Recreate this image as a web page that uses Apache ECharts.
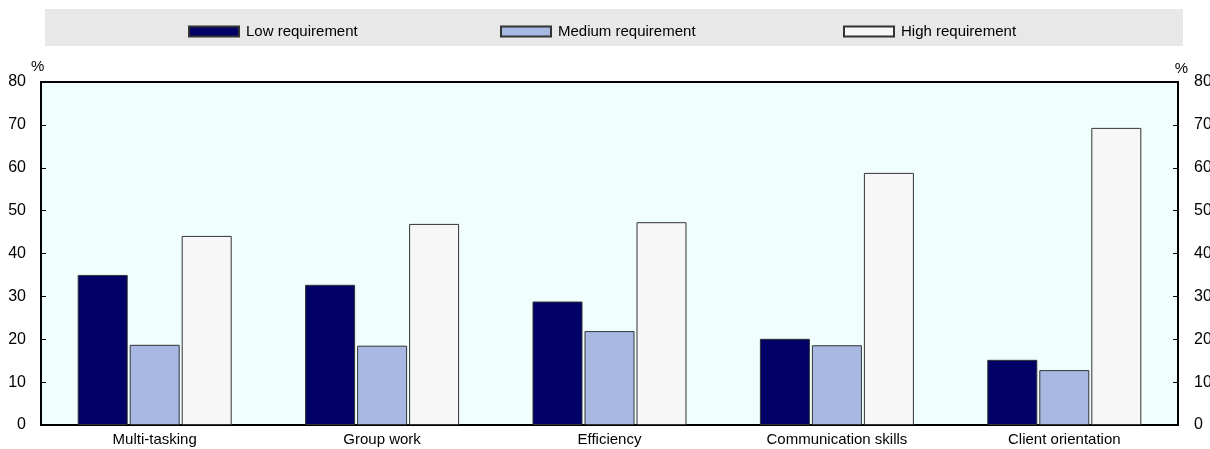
<!DOCTYPE html>
<html><head><meta charset="utf-8">
<script src="https://cdn.jsdelivr.net/npm/echarts@6/dist/echarts.min.js"></script>
<style>html,body{margin:0;padding:0;background:#fff}#c{width:1210px;height:449px}</style>
</head><body><div id="c"></div>
<script>
const categories = ['Multi-tasking', 'Group work', 'Efficiency', 'Communication skills', 'Client orientation'];
const lowReq = [35.0, 32.7, 28.8, 20.1, 15.2];
const mediumReq = [18.7, 18.5, 21.9, 18.6, 12.8];
const highReq = [44.1, 46.9, 47.3, 58.8, 69.3];
const yTicks = [0, 10, 20, 30, 40, 50, 60, 70, 80];
const seriesNames = ['Low requirement', 'Medium requirement', 'High requirement'];

const chart = echarts.init(document.getElementById('c'));
const font = '"Liberation Sans", Arial, sans-serif';
const legendBase = {
  top: 19, itemWidth: 50, itemHeight: 10, icon: 'rect',
  textStyle: { fontFamily: font, fontSize: 15, color: '#000', padding: [0, 0, 0, 2] },
  selectedMode: false
};
const yAxisBase = {
  type: 'value', min: yTicks[0], max: yTicks[yTicks.length - 1], interval: 10,
  name: '%', nameGap: 6,
  nameTextStyle: { fontFamily: font, fontSize: 15, color: '#000' },
  axisLine: { show: true, lineStyle: { color: '#000', width: 2 } },
  axisTick: { show: true, inside: true, length: 5, lineStyle: { color: '#000', width: 1 } },
  splitLine: { show: false }
};
const barStyle = (c) => ({ color: c, borderColor: '#333', borderWidth: 1 });
chart.setOption({
  animation: false,
  graphic: [{ type: 'rect', shape: { x: 45, y: 9, width: 1138, height: 37 }, style: { fill: '#E8E8E8' }, z: -10 }],
  legend: [
    Object.assign({ left: 183, data: [seriesNames[0]] }, legendBase),
    Object.assign({ left: 495, data: [seriesNames[1]] }, legendBase),
    Object.assign({ left: 838, data: [seriesNames[2]] }, legendBase)
  ],
  grid: { left: 41, right: 32, top: 82, bottom: 24, outerBoundsMode: 'none', containLabel: false, show: true, backgroundColor: '#F0FEFE', borderColor: '#000', borderWidth: 2 },
  xAxis: {
    type: 'category', data: categories,
    axisLine: { show: true, lineStyle: { color: '#000', width: 2 } },
    axisTick: { show: false },
    axisLabel: { fontFamily: font, fontSize: 15, color: '#000', margin: 7 }
  },
  yAxis: [
    Object.assign({}, yAxisBase, {
      position: 'left',
      axisLabel: { fontFamily: font, fontSize: 16, color: '#000', margin: 15 },
      nameTextStyle: Object.assign({}, yAxisBase.nameTextStyle, { align: 'left', padding: [0, 0, 0, -10] })
    }),
    Object.assign({}, yAxisBase, {
      position: 'right',
      axisLabel: { fontFamily: font, fontSize: 16, color: '#000', margin: 16 },
      nameTextStyle: Object.assign({}, yAxisBase.nameTextStyle, { align: 'right', padding: [0, -10, 0, 0] })
    })
  ],
  series: [
    { name: seriesNames[0], type: 'bar', data: lowReq, barWidth: 50, barGap: '4%', itemStyle: barStyle('#000066') },
    { name: seriesNames[1], type: 'bar', data: mediumReq, barWidth: 50, barGap: '4%', itemStyle: barStyle('#A7B9E3') },
    { name: seriesNames[2], type: 'bar', data: highReq, barWidth: 50, barGap: '4%', itemStyle: barStyle('#F7F7F7') }
  ]
});
</script></body></html>
